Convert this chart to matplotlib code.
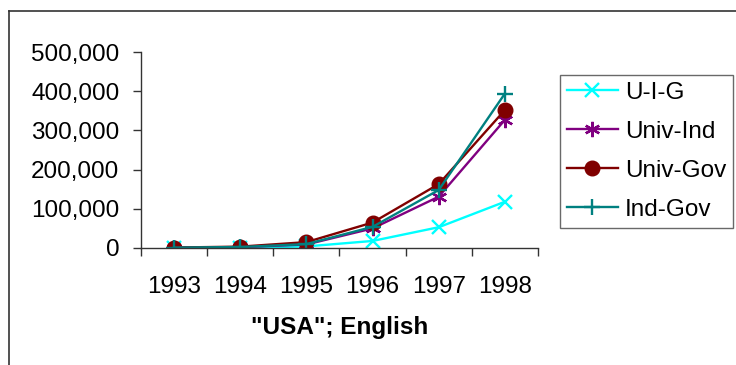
import matplotlib
matplotlib.use('Agg')
import matplotlib.pyplot as plt
from matplotlib.lines import Line2D
from matplotlib.ticker import FixedLocator, StrMethodFormatter

plt.rcParams['font.family'] = ['Liberation Sans', 'DejaVu Sans']

anos = ['1993', '1994', '1995', '1996', '1997', '1998']
u_i_g = [300, 600, 4000, 18000, 53000, 118000]
univ_ind = [800, 2000, 9000, 50000, 131000, 327000]
univ_gov = [1200, 3500, 15000, 65000, 163000, 352000]
ind_gov = [1000, 2500, 10000, 54000, 148000, 394000]

fs = 17.5

fig = plt.figure(figsize=(7.36, 3.65), dpi=100)
ax = fig.add_axes([141 / 736, 1 - 248 / 365, 397 / 736, 196 / 365])

x = list(range(len(anos)))
ax.plot(x, u_i_g, color='#00FFFF', lw=1.7, marker='x', ms=10, mew=1.7, label='U-I-G')
ax.plot(x, univ_ind, color='#800080', lw=1.7, marker=(6, 2, 0), ms=11, mew=1.7, label='Univ-Ind')
ax.plot(x, univ_gov, color='#800000', lw=1.7, marker='o', ms=10.5, label='Univ-Gov')
ax.plot(x, ind_gov, color='#008080', lw=1.7, marker='+', ms=12, mew=1.7, label='Ind-Gov')

ax.set_xlim(-0.5, len(anos) - 0.5)
ax.set_ylim(0, 500000)
ax.set_yticks(range(0, 500001, 100000))
ax.yaxis.set_major_formatter(StrMethodFormatter('{x:,.0f}'))

ax.set_xticks(x)
ax.set_xticklabels(anos)
ax.xaxis.set_minor_locator(FixedLocator([i - 0.5 for i in range(len(anos) + 1)]))
ax.tick_params(axis='x', which='major', length=0, pad=20, labelsize=fs)
ax.tick_params(axis='x', which='minor', length=5.5, width=1, direction='out', color='#333333')
ax.tick_params(axis='y', length=5.5, width=1, direction='out', pad=10, labelsize=fs, color='#333333')

for lado in ['top', 'right']:
    ax.spines[lado].set_visible(False)
for lado in ['left', 'bottom']:
    ax.spines[lado].set_color('#333333')
    ax.spines[lado].set_linewidth(1)

ax.set_xlabel('"USA"; English', fontsize=fs, fontweight='bold', labelpad=13)

leg = fig.legend(loc='upper left', bbox_to_anchor=(560 / 736, 1 - 75 / 365),
                 fontsize=fs, frameon=True, fancybox=False, edgecolor='#444444',
                 borderaxespad=0, borderpad=0.28, handlelength=2.1, handletextpad=0.3,
                 labelspacing=0.7)
leg.get_frame().set_linewidth(1)

# borda da figura (so esquerda e topo aparecem)
bx = 8.5 / 736
by = 1 - 10.5 / 365
fig.add_artist(Line2D([bx, bx], [0, by], transform=fig.transFigure, color='#333333', lw=1.2))
fig.add_artist(Line2D([bx, 1], [by, by], transform=fig.transFigure, color='#333333', lw=1.2))

plt.savefig('out.png', dpi=100)
